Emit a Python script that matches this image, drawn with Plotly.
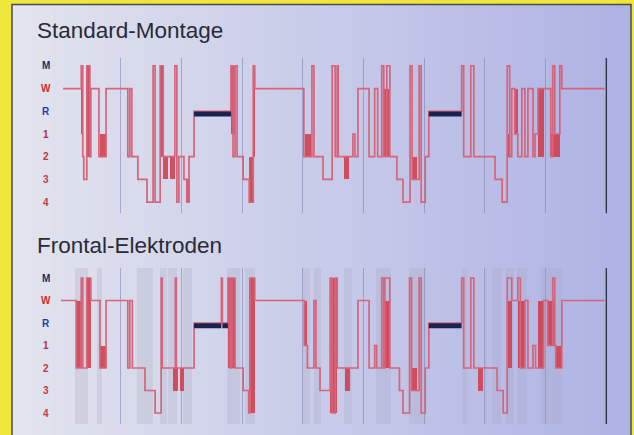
import plotly.graph_objects as go

# ---------------- data ----------------
stage_labels = ['4', '3', '2', '1', 'R', 'W', 'M']          # bottom -> top
stage_label_colors = ['#c43a4a', '#c43a4a', '#c83246', '#b8303e', '#2a3aa8', '#d42a2a', '#1e2a6a']
hour_marks = [60, 120, 180, 240, 300, 360, 420, 480]        # minutes
end_mark = 540

# Standard-Montage hypnogram (minute of change, stage)
top_t = [3, 21, 22.5, 23.5, 26.5, 29.5, 30.5, 38.5, 45.5, 67, 69, 71, 77, 86, 92, 94, 99, 102,
         113.5, 115.5, 117.5, 122.5, 125.5, 127.5, 132.5, 169, 171, 173, 175, 181, 187, 191, 192.5,
         241, 249, 251, 260, 269, 272, 274, 275, 289.5, 291.5, 294.5, 305.5, 311, 314, 318, 320,
         323, 326, 333, 339, 346, 348, 355, 357, 361, 364.5, 397, 399, 406, 409, 430, 437, 442,
         444.5, 446.5, 449.5, 452.5, 456.5, 459.5, 462.5, 467.5, 469.5, 472.5, 485, 487, 489, 494,
         496, 538.5]
top_stage = ['W', 'M', '2', '3', 'M', '2', 'W', '2', 'W', '2', 'W', '2', '3', '4', 'M', '4', 'M', '2',
             'M', '4', '2', '3', '4', '2', 'R', 'M', '2', 'M', '2', '3', '4', 'M', 'W',
             '2', 'M', '2', '3', 'M', '2', 'M', '2', '1', '2', 'W', '2', 'W', '2', 'M', '2',
             'M', '2', '3', '4', 'M', '3', 'M', '4', '2', 'R', 'M', '2', 'M', '2', '3', '4', 'M',
             '2', 'W', '1', '2', 'W', '2', 'W', '2', '1', 'W', '2', 'M', '1', 'M',
             'W', 'W']
# dense stage alternations (start, end, lowest stage, highest stage)
top_band_t0 = [20.5, 26.5, 39.5, 99, 102, 109, 125, 169, 187, 191, 242, 281, 320, 348, 442, 449.5, 472.5, 485]
top_band_t1 = [22.5, 29.5, 45, 102, 107, 114, 128, 173, 191, 193, 248, 286, 325, 353, 445, 452.5, 478.5, 494]
top_band_lo = ['1', '2', '2', '2', '3', '3', '4', '1', '4', '2', '2', '3', '2', '3', '2', '1', '2', '2']
top_band_hi = ['M', 'M', '1', 'M', '2', '2', '3', 'M', '2', 'M', '1', '2', 'W', '2', '1', 'W', 'W', '1']

# Frontal-Elektroden hypnogram
bot_t = [1, 16, 21, 22.5, 26.5, 30.5, 39.5, 45.5, 67, 69, 71.5, 84, 94, 100, 101, 114, 115, 132.5,
         159.5, 160.5, 166, 168, 170, 173, 181, 186.5, 188, 192.5, 241.5, 244.5, 251, 253, 257, 267,
         269, 272, 274, 294.5, 305.5, 311, 313, 318, 320, 321, 326, 335.5, 339, 345.5, 347.5, 355,
         357, 361, 364.5, 397, 399, 406, 409, 432, 438, 442, 446.5, 452.5, 455, 459.5, 462.5, 467.5,
         470, 472.5, 478, 482, 487, 489, 490, 496, 538.5]
bot_stage = ['W', '2', 'M', '2', 'M', 'W', '2', 'W', '2', 'W', '2', '3', '4', 'M', '2', 'M', '2', 'R',
             'M', 'R', 'M', '2', 'M', '2', '3', '4', 'M', 'W', '1', '2', 'W', '2', '3', 'M',
             '4', 'M', '2', 'W', '2', '1', '2', 'M', '2', 'M', '2', '3', '4', 'M', '3', 'M',
             '4', '2', 'R', 'M', '2', 'M', '2', '3', '4', 'M', 'W', 'M', '2', 'W', '2', '1',
             '2', '2', 'W', '1', 'M', '1', '2', 'W', 'W']
bot_band_t0 = [16, 26.5, 39.5, 112, 119, 166, 186.5, 241.5, 267, 282, 321, 348, 413, 442, 452.5, 472.5, 482, 489]
bot_band_t1 = [22.5, 30.5, 45, 117, 123, 173, 192.5, 244.5, 274, 287, 326, 353, 418, 447, 459.5, 478, 489, 496]
bot_band_lo = ['2', '2', '2', '3', '3', '2', '4', '1', '4', '3', '2', '3', '3', '2', '2', '2', '1', '2']
bot_band_hi = ['W', 'M', '1', '2', '2', 'M', 'M', 'W', 'M', '2', 'W', '2', '2', 'W', 'W', 'W', 'W', '1']
# artefact-marked epochs (frontal derivation)
art_t0 = [15, 36.5, 76, 99, 107, 121.5, 165, 183, 239, 251, 280.5, 312.5, 345, 397, 419, 427, 441, 451.5, 475.5]
art_t1 = [27.5, 41.5, 92, 106, 115.5, 130.5, 178, 192.5, 247, 258, 288.5, 327, 362, 402, 422, 436, 449, 461.5, 496]

lvl = {s: i for i, s in enumerate(stage_labels)}

# ---------------- figure ----------------
W, H = 634, 435
fig = go.Figure()

XDOM = [60 / W, 611.4 / W]
XRNG = [0, 545]
panels = [
    dict(xa='x', ya='y', t=top_t, s=top_stage, b0=top_band_t0, b1=top_band_t1, lo=top_band_lo,
         hi=top_band_hi, dom=[1 - 213.4 / H, 1 - 58 / H], rng=[-0.5, 6.35],
         title='Standard-Montage', ty=1 - 30.5 / H, art=False),
    dict(xa='x2', ya='y2', t=bot_t, s=bot_stage, b0=bot_band_t0, b1=bot_band_t1, lo=bot_band_lo,
         hi=bot_band_hi, dom=[1 - 424.25 / H, 1 - 267.9 / H], rng=[-0.5, 6.45],
         title='Frontal-Elektroden', ty=1 - 245 / H, art=True),
]

for p in panels:
    xa, ya = p['xa'], p['ya']
    if p['art']:
        fig.add_trace(go.Bar(
            x=[(a + b) / 2 for a, b in zip(art_t0, art_t1)],
            y=[p['rng'][1] - p['rng'][0]] * len(art_t0),
            base=[p['rng'][0]] * len(art_t0),
            width=[b - a for a, b in zip(art_t0, art_t1)],
            marker=dict(color='rgba(165,165,190,0.24)', line=dict(width=0)),
            xaxis=xa, yaxis=ya, hoverinfo='skip', showlegend=False))
    # hypnogram step line
    fig.add_trace(go.Scatter(
        x=p['t'], y=[lvl[s] for s in p['s']], mode='lines',
        line=dict(color='#d6647a', width=1.7, shape='hv'),
        xaxis=xa, yaxis=ya, hoverinfo='skip', showlegend=False))
    # dense alternation bands
    fig.add_trace(go.Bar(
        x=[(a + b) / 2 for a, b in zip(p['b0'], p['b1'])],
        y=[lvl[h] - lvl[l] for l, h in zip(p['lo'], p['hi'])],
        base=[lvl[l] for l in p['lo']],
        width=[b - a for a, b in zip(p['b0'], p['b1'])],
        marker=dict(color='rgba(210,55,70,0.85)', line=dict(width=0)),
        xaxis=xa, yaxis=ya, hoverinfo='skip', showlegend=False))
    # REM periods as thick dark bars
    rx, ry = [], []
    for i in range(len(p['t']) - 1):
        if p['s'][i] == 'R':
            rx += [p['t'][i], p['t'][i + 1], None]
            ry += [lvl['R'] - 0.12, lvl['R'] - 0.12, None]
    fig.add_trace(go.Scatter(
        x=rx, y=ry, mode='lines', line=dict(color='#1c2250', width=5),
        xaxis=xa, yaxis=ya, hoverinfo='skip', showlegend=False))
    # stage labels
    for s, c in zip(stage_labels, stage_label_colors):
        fig.add_annotation(x=45.5 / W, xref='paper', y=lvl[s], yref=ya, text='<b>%s</b>' % s,
                           showarrow=False, xanchor='center', yanchor='middle',
                           font=dict(family='Liberation Sans, Arial, sans-serif', size=10, color=c))
    fig.add_annotation(x=35 / W, xref='paper', y=p['ty'], yref='paper', text=p['title'],
                       showarrow=False, xanchor='left', yanchor='middle',
                       font=dict(family='Liberation Sans, Arial, sans-serif', size=22.5, color='#2a2a38'))
    # end-of-record line
    fig.add_shape(type='line', xref=xa, yref=ya, x0=end_mark, x1=end_mark,
                  y0=p['rng'][0], y1=p['rng'][1], line=dict(color='#34344a', width=1.4), layer='above')

# background: yellow frame + horizontally graded panel
N = 60
x0p, x1p = 12.0, 631.0
c0, c1 = (226, 228, 238), (174, 178, 228)
for i in range(N):
    f = (i + 0.5) / N
    col = 'rgb(%d,%d,%d)' % tuple(round(a + (b - a) * f) for a, b in zip(c0, c1))
    xa0 = x0p + (x1p - x0p) * i / N
    xa1 = x0p + (x1p - x0p) * (i + 1) / N + 0.6
    fig.add_shape(type='rect', xref='paper', yref='paper', x0=xa0 / W, x1=min(xa1, x1p) / W,
                  y0=0, y1=1 - 4.5 / H, fillcolor=col, line=dict(width=0), layer='below')
fig.add_shape(type='rect', xref='paper', yref='paper', x0=x0p / W, x1=x1p / W, y0=-0.01, y1=1 - 4.5 / H,
              line=dict(color='#4a4a52', width=1.5), fillcolor='rgba(0,0,0,0)', layer='below')

axis_x = dict(domain=XDOM, range=XRNG, tickvals=hour_marks, showticklabels=False, ticks='',
              showgrid=True, gridcolor='rgba(120,126,175,0.55)', gridwidth=1, zeroline=False,
              showline=False, fixedrange=True)
fig.update_layout(
    width=W, height=H, margin=dict(l=0, r=0, t=0, b=0),
    paper_bgcolor='#efe63c', plot_bgcolor='rgba(0,0,0,0)',
    barmode='overlay', bargap=0, showlegend=False,
    xaxis=dict(axis_x, anchor='y'),
    xaxis2=dict(axis_x, anchor='y2'),
    yaxis=dict(domain=panels[0]['dom'], range=panels[0]['rng'], showticklabels=False, showgrid=False,
               zeroline=False, anchor='x'),
    yaxis2=dict(domain=panels[1]['dom'], range=panels[1]['rng'], showticklabels=False, showgrid=False,
                zeroline=False, anchor='x2'),
)

fig.write_html('out.html', config={'displayModeBar': False},
               post_script="document.body.style.margin='0';document.body.style.overflow='hidden';")
